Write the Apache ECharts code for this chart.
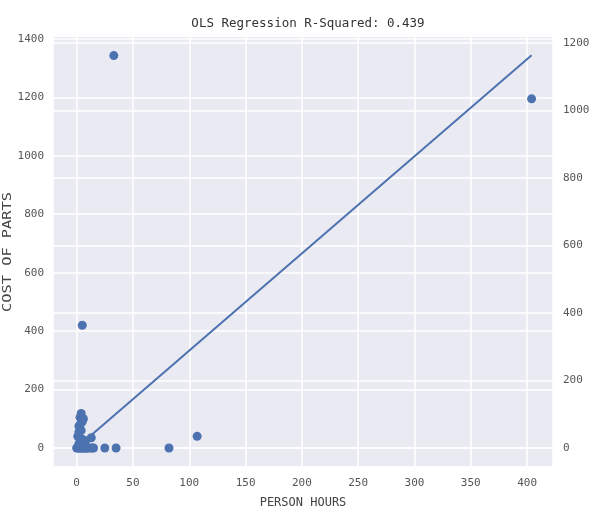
<!DOCTYPE html>
<html>
<head>
<meta charset="utf-8">
<script src="https://cdn.jsdelivr.net/npm/echarts@6/dist/echarts.min.js"></script>
<style>html,body{margin:0;padding:0;background:#fff;}#c{width:602px;height:520px;}</style>
</head>
<body>
<div id="c"></div>
<script>
const titleText = 'OLS Regression R-Squared: 0.439';
const xLabel = 'PERSON HOURS';
const yLabel = 'COST OF PARTS';
const personHours = [0,1,2,3,4,5,6,7,8,9,10,12,14,15,2,3,4,5,6,8,1,2,3,4,3,4,5,6,2,8,13,25,35,82,107,5,33,404];
const costOfParts = [0,0,0,0,0,0,0,0,0,0,0,0,0,0,15,20,25,30,10,5,40,75,80,60,105,118,90,100,55,25,35,0,0,0,40,420,1343,1195];
const fitX = [0, 404];
const fitY = [1, 1163];

const pts = personHours.map((x, i) => [x, costOfParts[i]]);
const fit = fitX.map((x, i) => [x, fitY[i]]);
const font = 'DejaVu Sans Mono';
const plain = v => String(v);
const chart = echarts.init(document.getElementById('c'), null, {renderer: 'canvas'});
chart.setOption({
  animation: false,
  backgroundColor: '#fff',
  title: {text: titleText, left: 303, top: 12, textAlign: 'center',
    textStyle: {fontFamily: font, fontSize: 12.5, fontWeight: 'normal', color: '#333'}},
  grid: {left: 53, right: 49, top: 36, bottom: 53, show: true, backgroundColor: '#EAEAF2', borderWidth: 0,
    containLabel: false, outerBoundsMode: 'none'},
  graphic: [{type: 'text', x: 8, y: 252, rotation: Math.PI / 2, scaleX: 1.28,
    style: {text: yLabel, fontFamily: font, fontSize: 12, fill: '#444', align: 'center', verticalAlign: 'middle'}}],
  xAxis: {type: 'value', min: -21, max: 423, splitNumber: 9,
    name: xLabel, nameLocation: 'middle', nameGap: 30,
    nameTextStyle: {fontFamily: font, fontSize: 12, color: '#444'},
    axisLine: {show: false}, axisTick: {show: false},
    axisLabel: {formatter: plain, showMinLabel: false, showMaxLabel: false, fontFamily: font, fontSize: 11, color: '#555', margin: 11},
    splitLine: {show: true, lineStyle: {color: '#fff', width: 1.5}}},
  yAxis: [
    {type: 'value', min: -65, max: 1410, splitNumber: 7, position: 'left',
      axisLine: {show: false}, axisTick: {show: false},
      axisLabel: {formatter: plain, showMinLabel: false, showMaxLabel: false, fontFamily: font, fontSize: 11, color: '#555', margin: 9},
      splitLine: {show: true, lineStyle: {color: '#fff', width: 1.5}}},
    {type: 'value', min: -56, max: 1220, splitNumber: 6, position: 'right',
      axisLine: {show: false}, axisTick: {show: false},
      axisLabel: {formatter: plain, showMinLabel: false, showMaxLabel: false, fontFamily: font, fontSize: 11, color: '#555', margin: 10},
      splitLine: {show: true, lineStyle: {color: '#fff', width: 1.5}}}
  ],
  series: [
    {type: 'scatter', data: pts, yAxisIndex: 0, symbolSize: 9,
      itemStyle: {color: '#4C72B0', opacity: 1}},
    {type: 'line', data: fit, yAxisIndex: 1, showSymbol: false, symbol: 'none',
      lineStyle: {color: '#4C72B0', width: 2}}
  ]
});
</script>
</body>
</html>
